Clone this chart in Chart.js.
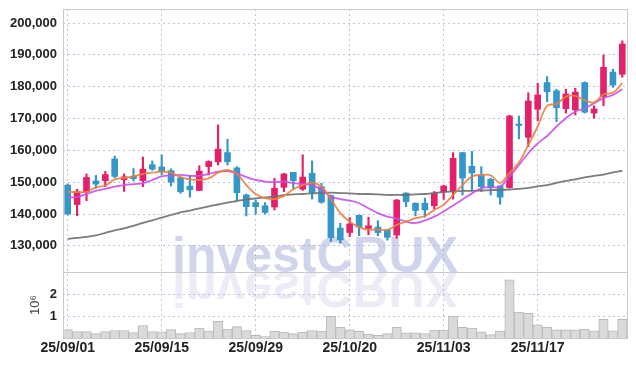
<!DOCTYPE html>
<html>
<head>
<meta charset="utf-8">
<script src="https://cdn.jsdelivr.net/npm/chart.js@4.4.1/dist/chart.umd.min.js"></script>
<style>
  html, body { margin: 0; padding: 0; background: #fff; }
</style>
</head>
<body>
<canvas id="chart" width="636" height="366"></canvas>
<script>
const dates = [
  "25/09/01", "25/09/02", "25/09/03", "25/09/04", "25/09/05",
  "25/09/08", "25/09/09", "25/09/10", "25/09/11", "25/09/12",
  "25/09/15", "25/09/16", "25/09/17", "25/09/18", "25/09/19",
  "25/09/22", "25/09/23", "25/09/24", "25/09/25", "25/09/26",
  "25/09/29", "25/09/30", "25/10/01", "25/10/02", "25/10/10",
  "25/10/13", "25/10/14", "25/10/15", "25/10/16", "25/10/17",
  "25/10/20", "25/10/21", "25/10/22", "25/10/23", "25/10/24",
  "25/10/27", "25/10/28", "25/10/29", "25/10/30", "25/10/31",
  "25/11/03", "25/11/04", "25/11/05", "25/11/06", "25/11/07",
  "25/11/10", "25/11/11", "25/11/12", "25/11/13", "25/11/14",
  "25/11/17", "25/11/18", "25/11/19", "25/11/20", "25/11/21",
  "25/11/24", "25/11/25", "25/11/26", "25/11/27", "25/11/28",
];

const open = [
  149100, 143000, 147000, 150400, 150500, 157300, 150800, 151900, 150500, 155500,
  154800, 153600, 151400, 148800, 147400, 154900, 156400, 159300, 154500, 146000,
  143600, 142600, 142200, 148400, 153100, 147800, 152800, 148600, 145800, 135600,
  134200, 139600, 135500, 135900, 135000, 133400, 146600, 143400, 143400, 142600,
  147000, 147100, 159300, 155000, 152300, 150900, 148800, 148300, 168000, 164100,
  172900, 181300, 178700, 173100, 172700, 181300, 171700, 176900, 184600, 183900,
];
const high = [
  149500, 147800, 152600, 152100, 153400, 158200, 152600, 154300, 157900, 156700,
  158600, 154200, 151700, 152100, 155200, 156700, 168000, 163500, 154900, 146300,
  144400, 143600, 151200, 152800, 153100, 158600, 156700, 149700, 146000, 137100,
  138900, 139700, 139000, 137900, 135200, 144600, 146700, 143500, 145000, 147100,
  149000, 159300, 159300, 159700, 154900, 151300, 148900, 171000, 170800, 178100,
  181100, 183200, 179200, 179200, 179500, 181500, 174000, 190000, 185500, 194400,
];
const low = [
  139700, 139500, 144200, 148100, 148600, 151400, 147100, 150400, 148600, 153700,
  152300, 148800, 146500, 145300, 147400, 152300, 155400, 155400, 144400, 139400,
  140000, 140000, 141300, 147000, 147800, 147400, 144700, 143400, 131400, 130800,
  132900, 133200, 133500, 133200, 131800, 132400, 142300, 139400, 139000, 141600,
  144600, 144700, 146000, 147300, 147100, 146000, 143100, 148100, 163600, 161200,
  169300, 175300, 169000, 171700, 171100, 171700, 170100, 174000, 179800, 183000,
];
const close = [
  140000, 147000, 151500, 149400, 152400, 151800, 151700, 151100, 154100, 154100,
  153300, 150100, 147000, 147600, 153500, 156500, 160400, 156400, 146700, 142300,
  142300, 140500, 148100, 152600, 150500, 151600, 146700, 143700, 132600, 131900,
  136900, 135900, 136300, 134200, 132700, 144400, 143900, 141100, 141300, 146600,
  148800, 157500, 151300, 152900, 148600, 148300, 145300, 170800, 167800, 175500,
  177400, 178400, 173400, 177700, 178300, 172000, 173000, 186100, 180500, 193400,
];
const volume = [
  380000, 290000, 290000, 200000, 290000, 340000, 340000, 250000, 570000, 290000,
  280000, 380000, 200000, 250000, 450000, 320000, 760000, 400000, 520000, 340000,
  120000, 60000, 300000, 270000, 200000, 270000, 340000, 310000, 980000, 490000,
  370000, 300000, 180000, 120000, 200000, 480000, 240000, 240000, 200000, 360000,
  360000, 1000000, 490000, 450000, 280000, 150000, 310000, 2640000, 1180000, 1120000,
  600000, 500000, 370000, 370000, 370000, 400000, 330000, 850000, 330000, 850000,
];

const ma5 = [
  147000, 146900, 147000, 148400, 148900, 150900, 151400, 151800, 152600, 153000,
  153300, 153000, 151600, 150900, 150700, 151200, 153000, 153900, 152600, 149100,
  146300, 145000, 144700, 145700, 147800, 149100, 149900, 148600, 144700, 140300,
  137600, 135900, 135000, 135200, 135000, 136600, 137600, 138700, 139400, 141300,
  142900, 146000, 149100, 151800, 152300, 152200, 149800, 152900, 156200, 161700,
  167500, 174000, 174600, 176900, 177100, 175800, 175000, 177600, 178100, 181100,
];
const ma10 = [
  145300, 145300, 146300, 147300, 147900, 148600, 149100, 149400, 149700, 150700,
  151800, 152100, 152300, 152000, 152000, 152600, 153300, 153500, 152800, 151600,
  150700, 150200, 150000, 150200, 149700, 149400, 149100, 147600, 145500, 144700,
  144200, 143400, 141800, 140300, 139200, 138600, 137600, 137200, 138000, 139200,
  140800, 142700, 144600, 146500, 148100, 148400, 148600, 151800, 155400, 159100,
  162200, 164500, 167500, 170100, 172200, 173200, 174800, 176400, 177400, 179200,
];
const maLong = [
  132200, 132500, 132800, 133300, 134100, 134900, 135500, 136300, 137200, 138000,
  138900, 139700, 140500, 141100, 141800, 142400, 143000, 143600, 144100, 144600,
  144900, 145200, 145500, 145900, 146200, 146300, 146500, 146600, 146700, 146600,
  146500, 146300, 146300, 146200, 146000, 146000, 146000, 146200, 146300, 146600,
  146900, 147100, 147300, 147300, 147400, 147500, 147600, 147700, 147900, 148200,
  148700, 149100, 149800, 150400, 150900, 151500, 152000, 152400, 153100, 153600,
];

const priceTicks = [130000, 140000, 150000, 160000, 170000, 180000, 190000, 200000];
const volumeTicks = [1000000, 2000000];

const UP = "#e5206b";
const DOWN = "#3597c9";
const GRID = "#c3c5de";
const FRAME = "#c8c8d0";

const candleColors = open.map((o, i) => (close[i] >= o ? UP : DOWN));

Chart.defaults.font.family = "'Liberation Sans', Arial, sans-serif";
Chart.defaults.color = "#222";

// watermark drawn under the marks, with its mirror image below the price panel
const watermark = {
  id: "watermark",
  beforeDatasetsDraw(chart) {
    const ctx = chart.ctx;
    const base = chart.scales.yVol.top;
    ctx.save();
    ctx.font = "bold 50px 'Liberation Sans', sans-serif";
    const w = ctx.measureText("investCRUX").width;
    ctx.translate(172, base);
    ctx.scale(286 / w, 1);
    ctx.fillStyle = "rgba(150, 162, 210, 0.45)";
    ctx.fillText("investCRUX", 0, 0);
    ctx.scale(1, -1);
    ctx.fillStyle = "rgba(175, 180, 215, 0.25)";
    ctx.fillText("investCRUX", 0, 0);
    ctx.restore();
  },
};

const frame = {
  id: "frame",
  afterDraw(chart) {
    const ctx = chart.ctx;
    const a = chart.chartArea;
    const sep = Math.round(chart.scales.yVol.top) + 0.5;
    ctx.save();
    ctx.strokeStyle = FRAME;
    ctx.lineWidth = 1;
    ctx.strokeRect(Math.round(a.left) + 0.5, Math.round(a.top) + 0.5,
      Math.round(a.right - a.left), Math.round(a.bottom - a.top));
    ctx.beginPath();
    ctx.moveTo(a.left, sep);
    ctx.lineTo(a.right, sep);
    ctx.stroke();
    ctx.restore();
  },
};

const noPad = (s) => {
  s.paddingTop = 0;
  s.paddingBottom = 0;
  s.paddingLeft = 0;
  s.paddingRight = 0;
};

const lineSet = (data, color) => ({
  type: "line",
  data,
  yAxisID: "y",
  borderColor: color,
  borderWidth: 1.8,
  pointRadius: 0,
  tension: 0.35,
  fill: false,
  order: 0,
});

new Chart(document.getElementById("chart"), {
  type: "bar",
  data: {
    labels: dates,
    datasets: [
      lineSet(ma5, "rgba(238, 125, 60, 0.9)"),
      lineSet(ma10, "rgba(200, 80, 235, 0.9)"),
      lineSet(maLong, "rgba(110, 110, 110, 0.9)"),
      {
        data: open.map((o, i) => [o, close[i]]),
        yAxisID: "y",
        backgroundColor: candleColors,
        barThickness: 6,
        minBarLength: 1.5,
        grouped: false,
        order: 1,
      },
      {
        data: low.map((l, i) => [l, high[i]]),
        yAxisID: "y",
        backgroundColor: candleColors,
        barThickness: 1.5,
        grouped: false,
        order: 2,
      },
      {
        data: volume,
        yAxisID: "yVol",
        backgroundColor: "#dadada",
        borderColor: "#b9b9b9",
        borderWidth: 1,
        barPercentage: 1,
        categoryPercentage: 1,
        grouped: false,
        order: 3,
      },
    ],
  },
  options: {
    responsive: false,
    animation: false,
    devicePixelRatio: 1,
    layout: { padding: { top: 9, right: 9, bottom: 0, left: 0 } },
    plugins: {
      legend: { display: false },
      tooltip: { enabled: false },
    },
    scales: {
      x: {
        offset: true,
        grid: { offset: false, color: GRID, drawTicks: false },
        border: { display: false, dash: [2, 3] },
        ticks: {
          autoSkip: false,
          maxRotation: 0,
          padding: 2,
          font: { size: 14, weight: "bold" },
          callback: (v, i) => (i % 10 === 0 ? dates[i] : null),
        },
        afterFit: (s) => {
          s.height = 28;
          noPad(s);
        },
      },
      yVol: {
        position: "left",
        stack: "panels",
        stackWeight: 66,
        min: 0,
        max: 3000000,
        grid: { color: GRID, drawTicks: false },
        border: { display: false, dash: [2, 3] },
        afterBuildTicks: (s) => {
          s.ticks = volumeTicks.map((v) => ({ value: v }));
        },
        ticks: {
          padding: 6,
          font: { size: 13, weight: "bold" },
          callback: (v) => v / 1000000,
        },
        title: {
          display: true,
          text: "10⁶",
          color: "#444",
          font: { size: 13 },
          padding: { top: 28, bottom: 0 },
        },
        afterFit: (s) => {
          s.width = 63;
          noPad(s);
        },
      },
      y: {
        position: "left",
        stack: "panels",
        stackWeight: 263,
        min: 121800,
        max: 204400,
        grid: { color: GRID, drawTicks: false },
        border: { display: false, dash: [2, 3] },
        afterBuildTicks: (s) => {
          s.ticks = priceTicks.map((v) => ({ value: v }));
        },
        ticks: {
          padding: 6,
          font: { size: 13, weight: "bold" },
          callback: (v) => v.toLocaleString("en-US"),
        },
        afterFit: (s) => {
          s.width = 63;
          noPad(s);
        },
      },
    },
  },
  plugins: [watermark, frame],
});
</script>
</body>
</html>
